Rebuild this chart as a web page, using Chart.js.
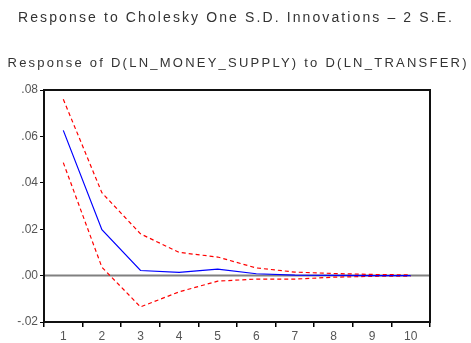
<!DOCTYPE html>
<html>
<head>
<meta charset="utf-8">
<script src="https://cdn.jsdelivr.net/npm/chart.js@4.4.1/dist/chart.umd.min.js"></script>
<style>
  html, body { margin: 0; padding: 0; background: #fff; }
  #wrap { width: 471px; height: 343px; }
</style>
</head>
<body>
<div id="wrap"><canvas id="myChart" width="471" height="343"></canvas></div>
<script>
// Periods after the shock
const periods = ["1", "2", "3", "4", "5", "6", "7", "8", "9", "10"];

// Impulse response and +/- 2 S.E. bands
const response = [0.0626, 0.0198, 0.0022, 0.0014, 0.0028, 0.0008, 0.0002, 0.0001, 0.0000, 0.0000];
const upperBand = [0.0760, 0.0357, 0.0180, 0.0100, 0.0080, 0.0033, 0.0015, 0.0009, 0.0005, 0.0003];
const lowerBand = [0.0487, 0.0036, -0.0135, -0.0070, -0.0024, -0.0015, -0.0015, -0.0007, -0.0003, -0.0002];

// Y axis tick labels
const yTicks = [-0.02, 0.0, 0.02, 0.04, 0.06, 0.08];
const yTickLabels = ["-.02", ".00", ".02", ".04", ".06", ".08"];

const mainTitle = "Response to Cholesky One S.D. Innovations \u2013 2 S.E.";
const subTitle = "Response of D(LN_MONEY_SUPPLY) to D(LN_TRANSFER)";

const textColor = "#555";
const fontFamily = "'Liberation Sans', Arial, sans-serif";

// draws text stretched to a given width with letter spacing
function spacedText(ctx, text, cx, y, width, font) {
  ctx.font = font;
  ctx.letterSpacing = "0px";
  const w = ctx.measureText(text).width;
  const sp = (width - w) / (text.length - 1);
  ctx.letterSpacing = sp + "px";
  ctx.textAlign = "left";
  ctx.fillText(text, cx - width / 2, y);
  ctx.letterSpacing = "0px";
}

const ctx = document.getElementById("myChart");
new Chart(ctx, {
  type: "line",
  data: {
    labels: periods,
    datasets: [
      {
        label: "Response",
        data: response,
        borderColor: "#0000ff",
        borderWidth: 1.2,
        pointRadius: 0,
        tension: 0,
      },
      {
        label: "+2 S.E.",
        data: upperBand,
        borderColor: "#ff0000",
        borderWidth: 1.2,
        borderDash: [4, 3],
        pointRadius: 0,
        tension: 0,
      },
      {
        label: "-2 S.E.",
        data: lowerBand,
        borderColor: "#ff0000",
        borderWidth: 1.2,
        borderDash: [4, 3],
        pointRadius: 0,
        tension: 0,
      },
    ],
  },
  options: {
    responsive: false,
    animation: false,
    layout: { padding: { top: 90, right: 41, left: 0, bottom: 0 } },
    scales: {
      x: {
        offset: true,
        grid: {
          offset: true,
          drawOnChartArea: false,
          color: "#000",
          tickLength: 5,
          lineWidth: 1.5,
        },
        border: { display: false },
        ticks: {
          color: textColor,
          font: { family: fontFamily, size: 12 },
          padding: 2,
          maxRotation: 0,
        },
        afterFit(scale) {
          scale.height = 21;
        },
      },
      y: {
        min: -0.02,
        max: 0.08,
        afterBuildTicks(scale) {
          scale.ticks = yTicks.map((v) => ({ value: v }));
        },
        grid: {
          drawOnChartArea: false,
          color: "#000",
          tickLength: 4,
        },
        border: { display: false },
        ticks: {
          color: textColor,
          font: { family: fontFamily, size: 12 },
          padding: 2,
          callback: (v) => yTickLabels[yTicks.indexOf(Math.round(v * 100) / 100)] ?? "",
        },
        afterFit(scale) {
          scale.width = 44;
        },
      },
    },
    plugins: {
      legend: { display: false },
      tooltip: { enabled: false },
    },
  },
  plugins: [
    {
      id: "zero_line",
      beforeDatasetsDraw(chart) {
        const { ctx, chartArea, scales } = chart;
        const y0 = scales.y.getPixelForValue(0);
        ctx.save();
        ctx.strokeStyle = "#808080";
        ctx.lineWidth = 2;
        ctx.beginPath();
        ctx.moveTo(chartArea.left, y0);
        ctx.lineTo(chartArea.right, y0);
        ctx.stroke();
        ctx.restore();
      },
    },
    {
      id: "frame_and_titles",
      afterDraw(chart) {
        const { ctx, chartArea } = chart;
        ctx.save();
        ctx.strokeStyle = "#111";
        ctx.lineWidth = 2;
        ctx.strokeRect(
          chartArea.left,
          chartArea.top,
          chartArea.right - chartArea.left,
          chartArea.bottom - chartArea.top
        );
        ctx.fillStyle = "#333";
        ctx.textBaseline = "middle";
        spacedText(ctx, mainTitle, 235, 18, 434, "14px " + fontFamily);
        spacedText(ctx, subTitle, 237, 63, 459, "13px " + fontFamily);
        ctx.restore();
      },
    },
  ],
});
</script>
</body>
</html>
